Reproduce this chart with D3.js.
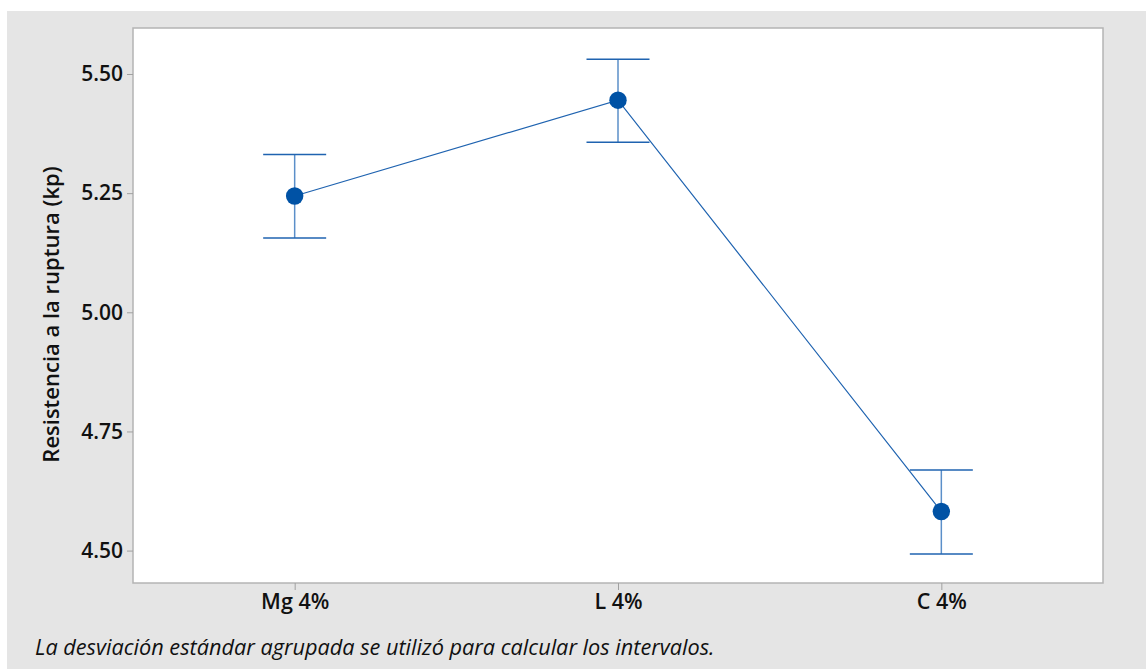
<!DOCTYPE html>
<html>
<head>
<meta charset="utf-8">
<script src="https://cdn.jsdelivr.net/npm/d3@7"></script>
<style>
  html, body { margin: 0; padding: 0; background: #ffffff; }
  svg { display: block; }
</style>
</head>
<body>
<svg id="chart" width="1146" height="669"></svg>
<script>
const categories = ["Mg 4%", "L 4%", "C 4%"];
const means = [5.244, 5.445, 4.582];
const upper = [5.331, 5.531, 4.669];
const lower = [5.156, 5.357, 4.493];
const yTicks = [4.50, 4.75, 5.00, 5.25, 5.50];
const yTitle = "Resistencia a la ruptura (kp)";
const footnote = "La desviación estándar agrupada se utilizó para calcular los intervalos.";

const W = 1146, H = 669;
const plot = { left: 133, top: 28, right: 1103, bottom: 583 };
const svg = d3.select("#chart");

svg.append("rect").attr("x", 7).attr("y", 11).attr("width", W - 7).attr("height", H - 11)
  .attr("fill", "#e5e5e5");

svg.append("rect").attr("x", plot.left).attr("y", plot.top)
  .attr("width", plot.right - plot.left).attr("height", plot.bottom - plot.top)
  .attr("fill", "#ffffff").attr("stroke", "#b4b4b4").attr("stroke-width", 1.5);

const x = d3.scalePoint().domain(categories).range([plot.left, plot.right]).padding(0.5);
const y = d3.scaleLinear().domain([4.432, 5.5965]).range([plot.bottom, plot.top]);

const font = "'Open Sans', 'Noto Sans', sans-serif";

const yAxis = d3.axisLeft(y).tickValues(yTicks).tickFormat(d3.format(".2f")).tickSize(6).tickPadding(4);
const gy = svg.append("g").attr("transform", `translate(${plot.left},0)`).call(yAxis);
gy.select(".domain").remove();
gy.selectAll(".tick line").attr("stroke", "#a0a0a0");
gy.selectAll(".tick text").attr("fill", "#111").style("font-family", font)
  .style("font-size", "21px").style("font-weight", 600);

const xAxis = d3.axisBottom(x).tickSize(7).tickPadding(4);
const gx = svg.append("g").attr("transform", `translate(0,${plot.bottom})`).call(xAxis);
gx.select(".domain").remove();
gx.selectAll(".tick line").attr("stroke", "#a0a0a0");
gx.selectAll(".tick text").attr("fill", "#111").style("font-family", font)
  .style("font-size", "21.5px").style("font-weight", 600);

svg.append("text")
  .attr("transform", `translate(59,${(plot.top + plot.bottom) / 2 + 9}) rotate(-90)`)
  .attr("text-anchor", "middle")
  .style("font-family", font).style("font-size", "22px").style("font-weight", 600)
  .attr("fill", "#111").text(yTitle);

svg.append("text")
  .attr("x", 35).attr("y", 655)
  .style("font-family", font).style("font-size", "21.7px").style("font-style", "italic")
  .attr("fill", "#111").text(footnote);

const data = categories.map((c, i) => ({ c, m: means[i], u: upper[i], l: lower[i] }));
const capW = 31.5;

const g = svg.append("g");
data.forEach(d => {
  g.append("line").attr("x1", x(d.c)).attr("x2", x(d.c)).attr("y1", y(d.u)).attr("y2", y(d.l))
    .attr("stroke", "#5b8fc9").attr("stroke-width", 1.5);
  [d.u, d.l].forEach(v => {
    g.append("line").attr("x1", x(d.c) - capW).attr("x2", x(d.c) + capW)
      .attr("y1", y(v)).attr("y2", y(v)).attr("stroke", "#1f63b0").attr("stroke-width", 1.5);
  });
});

const line = d3.line().x(d => x(d.c)).y(d => y(d.m));
g.append("path").datum(data).attr("d", line).attr("fill", "none")
  .attr("stroke", "#1f63b0").attr("stroke-width", 1.2);

g.selectAll("circle").data(data).join("circle")
  .attr("cx", d => x(d.c)).attr("cy", d => y(d.m)).attr("r", 8.7)
  .attr("fill", "#0052a5");
</script>
</body>
</html>
